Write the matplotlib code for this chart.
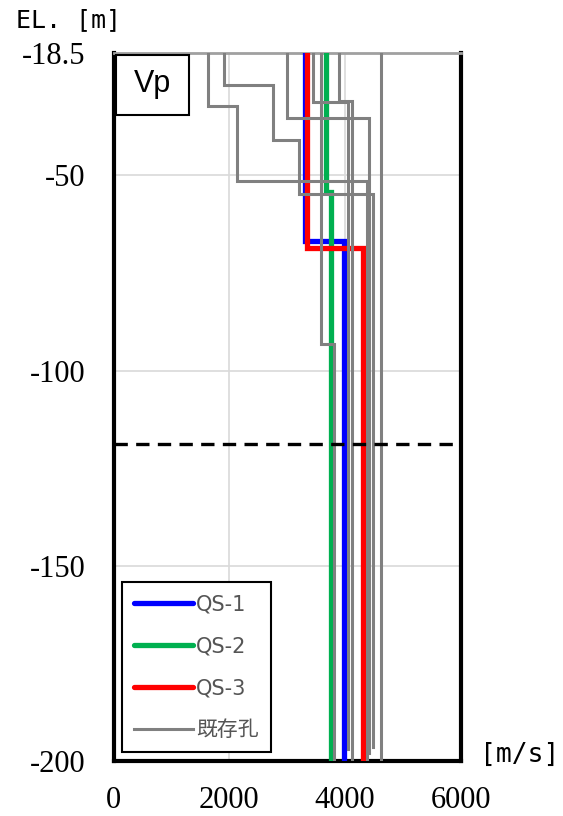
import matplotlib.pyplot as plt
from matplotlib.lines import Line2D
from matplotlib.patches import Rectangle

# layer boundaries (EL. m) and P-wave velocity (m/s) of each layer
qs1_depth = [-18.5, -66.7, -200]
qs1_vp = [3310, 3980]
qs2_depth = [-18.5, -54.3, -200]
qs2_vp = [3665, 3753]
qs3_depth = [-18.5, -68.7, -200]
qs3_vp = [3337, 4309]

# existing boreholes
bh1_depth = [-18.5, -32.2, -51.3, -200]
bh1_vp = [1637, 2138, 4370]
bh2_depth = [-18.5, -26.7, -40.8, -54.7, -196.5]
bh2_vp = [1913, 2760, 3209, 4475]
bh3_depth = [-18.5, -35.2, -198]
bh3_vp = [2991, 4420]
bh4_depth = [-18.5, -31.2, -197]
bh4_vp = [3450, 4050]
bh5_depth = [-18.5, -30.8, -200]
bh5_vp = [3895, 4120]
bh6_depth = [-18.5, -200]
bh6_vp = [4620]
bh7_depth = [-18.5, -93.3, -200]
bh7_vp = [3584, 3800]

dashed_level = -118.7

y_ticks = [-18.5, -50, -100, -150, -200]
y_ticklabels = ["-18.5", "-50", "-100", "-150", "-200"]
x_ticks = [0, 2000, 4000, 6000]


def step_xy(depth, vp):
    xs, ys = [], []
    for i, v in enumerate(vp):
        xs += [v, v]
        ys += [depth[i], depth[i + 1]]
    return xs, ys


fig = plt.figure(figsize=(5.63, 8.16), dpi=100)
ax = fig.add_axes([113.5 / 563, 1 - 761 / 816, 347.5 / 563, (761 - 52.5) / 816])

qs_series = [
    (qs1_depth, qs1_vp, "#0000ff", "QS-1"),
    (qs2_depth, qs2_vp, "#00b050", "QS-2"),
    (qs3_depth, qs3_vp, "#ff0000", "QS-3"),
]
for d, v, c, _ in qs_series:
    x, y = step_xy(d, v)
    ax.plot(x, y, color=c, lw=3.8, solid_joinstyle="miter", zorder=3)

gray = "#808080"
for d, v in [(bh1_depth, bh1_vp), (bh2_depth, bh2_vp), (bh3_depth, bh3_vp),
             (bh4_depth, bh4_vp), (bh5_depth, bh5_vp), (bh6_depth, bh6_vp),
             (bh7_depth, bh7_vp)]:
    x, y = step_xy(d, v)
    ax.plot(x, y, color=gray, lw=2.2, solid_joinstyle="miter", zorder=4)

ax.axhline(dashed_level, color="black", lw=2.4, ls=(0, (4, 2.5)), zorder=5)

ax.set_xlim(0, 6000)
ax.set_ylim(-200, -18.5)
ax.set_xticks(x_ticks)
ax.set_yticks(y_ticks)
ax.set_yticklabels(y_ticklabels)
ax.grid(color="#d9d9d9", lw=1.2)
ax.set_axisbelow(True)

for lab in ax.get_xticklabels() + ax.get_yticklabels():
    lab.set_fontfamily("Liberation Serif")
    lab.set_fontsize(22)
ax.tick_params(axis="y", length=0, pad=20)
ax.tick_params(axis="x", length=0, pad=18)

for side in ["left", "right", "bottom"]:
    ax.spines[side].set_linewidth(3)
    ax.spines[side].set_color("black")
ax.spines["top"].set_linewidth(2)
ax.spines["top"].set_color("#a0a0a0")

# label box in the top-left corner
ax.add_patch(Rectangle((0.007, 0.912), 0.21, 0.085, transform=ax.transAxes,
                       facecolor="white", edgecolor="black", lw=1.5, zorder=6))
ax.text(0.112, 0.955, "Vp", transform=ax.transAxes, ha="center", va="center",
        fontsize=22, family="Liberation Sans", zorder=7)

handles = [Line2D([], [], color=c, lw=3.8, solid_capstyle="round") for _, _, c, _ in qs_series]
handles.append(Line2D([], [], color=gray, lw=2.2))
labels = [s[3] for s in qs_series] + ["既存孔"]
leg = ax.legend(handles, labels, loc="lower left", bbox_to_anchor=(0.024, 0.012),
                prop={"family": ["DejaVu Sans", "Noto Sans CJK JP"], "size": 15},
                labelcolor="#555555", fancybox=False, framealpha=1,
                edgecolor="black", handlelength=2.8, handletextpad=0.15,
                labelspacing=1.05, borderpad=0.6, borderaxespad=0)
leg.get_frame().set_linewidth(1.5)
leg.set_zorder(8)

fig.text(68 / 563, 1 - 20 / 816, "EL. [m]", ha="center", va="center",
         fontsize=18, family="DejaVu Sans Mono")
fig.text(520 / 563, 1 - 755 / 816, "[m/s]", ha="center", va="center",
         fontsize=19, family="DejaVu Sans Mono")

fig.savefig("out.png", dpi=100)
